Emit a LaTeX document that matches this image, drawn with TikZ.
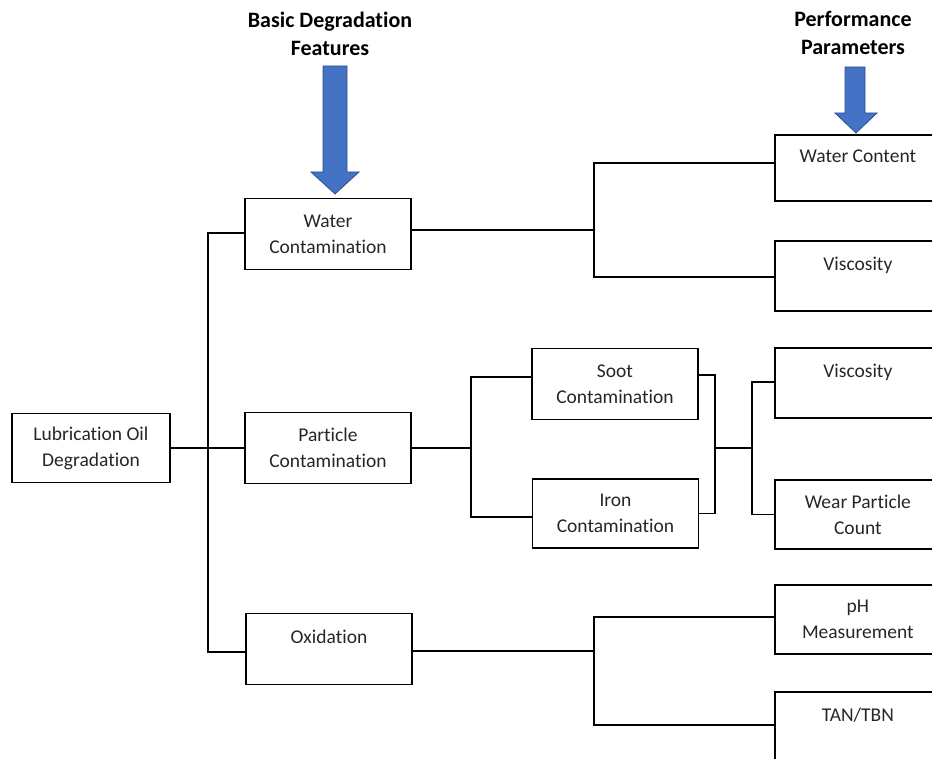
\documentclass[tikz,border=0pt]{standalone}
\usepackage{fontspec}
\setmainfont{Carlito}[Ligatures=NoCommon]
\usepackage{tikz}
\usetikzlibrary{arrows.meta,positioning,calc}
\definecolor{OilBlue}{HTML}{4472C4}
\definecolor{OilBlueEdge}{HTML}{2F528F}
\definecolor{OilText}{HTML}{262626}

\begin{document}
\begin{tikzpicture}[
  x=1pt,y=-1pt,
  font=\fontsize{19.5}{26}\selectfont,
  featbox/.style={draw=black,line width=1.7pt,minimum width=166pt,minimum height=71pt,
                  align=center,inner sep=0pt,text=OilText},
  parambox/.style={featbox,anchor=west},
  onetop/.style={text height=14pt,text depth=25pt},
  link/.style={draw=black,line width=1.5pt},
  headtext/.style={font=\fontsize{22}{28}\selectfont\bfseries,align=center},
  downarrow/.style={fill=OilBlue,draw=OilBlueEdge,line width=0.8pt}
]
\useasboundingbox (0,0) rectangle (932,759);
\clip (0,0) rectangle (932,759);
% headings and block arrows
\node[headtext] (basic) at (330,34) {Basic Degradation\\Features};
\node[headtext] (perf) at (853,33) {Performance\\Parameters};
\draw[downarrow] (323,66) -- (347,66) -- (347,172) -- (359,172) -- (335,194) -- (311,172) -- (323,172) -- cycle;
\draw[downarrow] (845,67) -- (865,67) -- (865,113) -- (877,113) -- (856,133) -- (835,113) -- (845,113) -- cycle;
% degradation features
\node[featbox,minimum width=158pt,minimum height=69pt] (lub) at (91,448) {Lubrication Oil\\Degradation};
\node[featbox] (water) at (328,234) {Water\\Contamination};
\node[featbox] (particle) at (328,448) {Particle\\Contamination};
\node[featbox,onetop] (oxid) at (329,649) {Oxidation};
\node[featbox] (soot) at (615,384) {Soot\\Contamination};
\node[featbox,minimum height=69pt] (iron) at (615.5,513.5) {Iron\\Contamination};
% performance parameters
\node[parambox,onetop,minimum height=66pt] (wcont) at (774,168) {Water Content};
\node[parambox,onetop,minimum height=70pt] (visc1) at (774,276) {Viscosity};
\node[parambox,onetop,minimum height=70pt] (visc2) at (774,383) {Viscosity};
\node[parambox,minimum height=69pt] (wear) at (774,514.5) {Wear Particle\\Count};
\node[parambox,minimum height=69pt] (ph) at (774,619.5) {pH\\Measurement};
\node[parambox,onetop,minimum height=70pt] (tan) at (774,727) {TAN/TBN};
% connectors
\coordinate (trunk) at (208,0);
\coordinate (oxin) at ([yshift=-3pt]oxid.west);
\draw[link] ([yshift=1pt]water.west) -| (trunk |- oxin) -- (oxin);
\draw[link] (lub.east) -- (particle.west);
\draw[link] ([yshift=4pt]water.east) -- ++(182,0) coordinate (wj);
\draw[link] ([yshift=5pt]wcont.west) -| (wj) |- ([yshift=-1pt]visc1.west);
\draw[link] (particle.east) -- ++(59,0) coordinate (pj);
\draw[link] ([yshift=7pt]soot.west) -| (pj) |- ([yshift=-3.5pt]iron.west);
\draw[link] ([yshift=9pt]soot.east) -- ++(16,0) coordinate (mj) |- (iron.east);
\draw[link] (mj |- particle.east) -- ++(37,0) coordinate (vj);
\draw[link] ([yshift=1pt]visc2.west) -| (vj) |- (wear.west);
\draw[link] ([yshift=-2pt]oxid.east) -- ++(181,0) coordinate (oj);
\draw[link] ([yshift=2.5pt]ph.west) -| (oj) |- ([yshift=2pt]tan.west);
\end{tikzpicture}
\end{document}
